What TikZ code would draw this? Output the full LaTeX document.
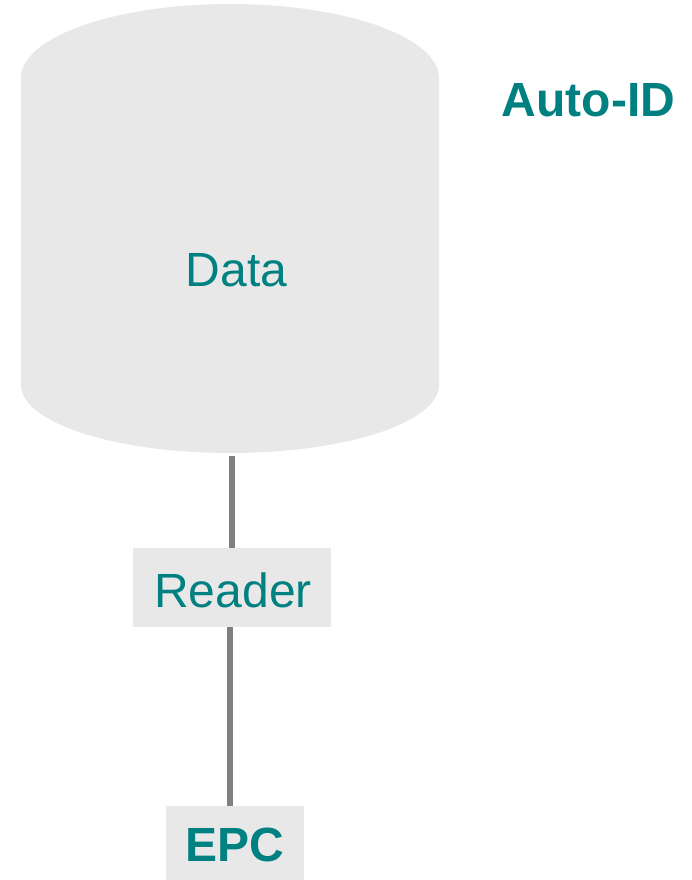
\documentclass[tikz,border=0pt]{standalone}
\usepackage{fontspec}
\setmainfont{Liberation Sans}
\definecolor{boxgray}{HTML}{E8E8E8}
\definecolor{teal}{HTML}{008080}
\definecolor{linegray}{HTML}{808080}
\begin{document}
\begin{tikzpicture}[x=1pt,y=1pt,
  lbl/.style={text=teal,font=\fontsize{48}{56}\selectfont,inner sep=0pt},
  boldlbl/.style={lbl,font=\fontsize{48}{56}\selectfont\bfseries},
  box/.style={fill=boxgray,draw=none,inner sep=0pt},
  conn/.style={draw=linegray,line width=6pt}]
\useasboundingbox (0,0) rectangle (692,-880);
% cylinder
\fill[boxgray] (21,-78) arc[start angle=180,end angle=0,x radius=209,y radius=74]
  -- (439,-385) arc[start angle=0,end angle=-180,x radius=209,y radius=68] -- cycle;
\node[lbl] (data) at (236.5,-270) {Data};
\coordinate (databot) at (232,-456);
\node[box,minimum width=198pt,minimum height=79pt] (reader) at (232,-587.5) {};
\node[lbl] (readertxt) at (233,-590) {Reader};
\node[box,minimum width=138pt,minimum height=78pt] (epc) at (235,-845) {};
\node[boldlbl] (epctxt) at (235,-845) {EPC};
\node[boldlbl] (autoid) at (588.5,-100) {Auto-ID};
\draw[conn] (databot) -- (reader.north);
\draw[conn] ([xshift=-2pt]reader.south) -- ([xshift=-5pt]epc.north);
\end{tikzpicture}
\end{document}
